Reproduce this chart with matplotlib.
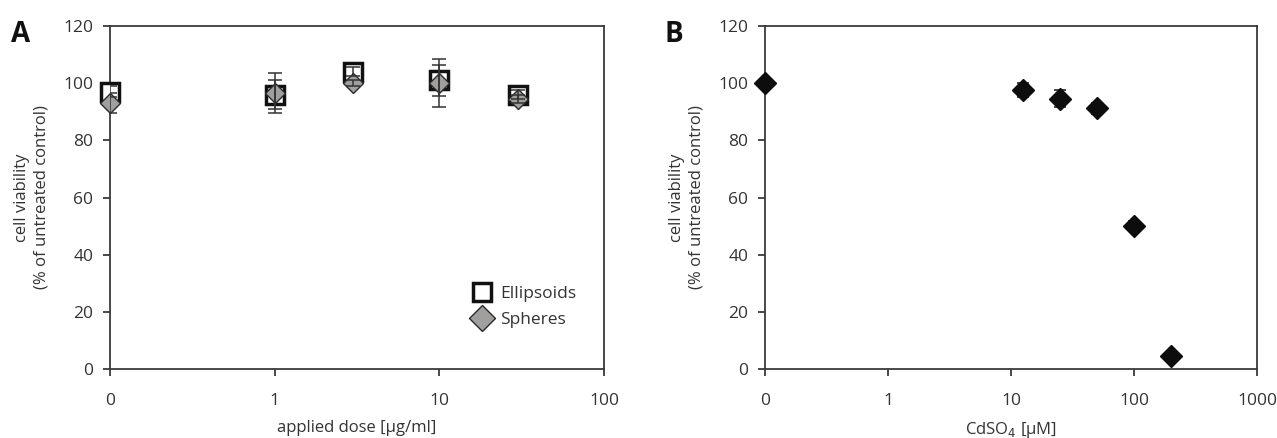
import matplotlib
matplotlib.use("Agg")
import matplotlib.pyplot as plt
from matplotlib.lines import Line2D
import numpy as np

plt.rcParams['font.family'] = ['Open Sans', 'DejaVu Sans']

# ---- Panel A data ----
dose_A = [0, 1, 3, 10, 30]            # µg/ml (0 drawn at the "0" position of the log axis)
ellipsoids = [97, 96, 104, 101, 96]
ellipsoids_err = [2, 5, 1.5, 5.5, 1.5]
spheres = [93, 96.5, 100, 100, 94.5]
spheres_err = [3.5, 7, 1, 8.5, 1.5]
xticks_A = ['0', '1', '10', '100']

# ---- Panel B data ----
dose_B = [0, 12.5, 25, 50, 100, 200]   # µM CdSO4
cdso4 = [100, 97.5, 94.5, 91.2, 50.2, 4.5]
cdso4_err = [0, 2.5, 3, 2, 1.5, 1]
xticks_B = ['0', '1', '10', '100', '1000']

ZERO_POS = 0.1  # position of the "0" label on the log axis

def pos(v):
    return [ZERO_POS if d == 0 else d for d in v]

TXT = '#333333'
SP = '#3a3a3a'

fig = plt.figure(figsize=(12.77, 4.38), dpi=100)
axA = fig.add_axes([110/1277, 69/438, 494/1277, 343/438])
axB = fig.add_axes([765/1277, 69/438, 492/1277, 343/438])

def style(ax, ticklabels, xlabel):
    ax.set_xscale('log')
    n = len(ticklabels)
    ticks = [ZERO_POS * 10**i for i in range(n)]
    ax.set_xlim(ticks[0], ticks[-1])
    ax.set_xticks(ticks)
    ax.set_xticklabels(ticklabels)
    ax.xaxis.set_minor_locator(matplotlib.ticker.NullLocator())
    ax.set_ylim(0, 120)
    ax.set_yticks(range(0, 121, 20))
    for s in ax.spines.values():
        s.set_color(SP)
        s.set_linewidth(1.3)
    ax.tick_params(axis='both', direction='out', length=5, width=1.3, color=SP,
                   labelcolor=TXT, labelsize=12.5)
    ax.tick_params(axis='x', pad=12)
    ax.tick_params(axis='y', pad=7)
    ax.set_ylabel('cell viability\n(% of untreated control)', fontsize=12,
                  color=TXT, labelpad=10, linespacing=1.25)
    ax.set_xlabel(xlabel, fontsize=12, color=TXT, labelpad=8)

style(axA, xticks_A, 'applied dose [µg/ml]')
style(axB, xticks_B, 'CdSO$_4$ [µM]')

# Panel A
xa = pos(dose_A)
axA.plot(xa, ellipsoids, linestyle='none', marker='s', ms=12.5, mfc='white',
         mec='#111111', mew=2.5, zorder=3, clip_on=False)
axA.plot(xa, spheres, linestyle='none', marker='D', ms=10.5, mfc='#a09f9d',
         mec='#2a2a2a', mew=1.0, zorder=4, clip_on=False)
axA.errorbar(xa, ellipsoids, yerr=ellipsoids_err, fmt='none', ecolor='#333333',
             elinewidth=1.1, capsize=5, capthick=1.1, zorder=5)
axA.errorbar(xa, spheres, yerr=spheres_err, fmt='none', ecolor='#333333',
             elinewidth=1.1, capsize=5, capthick=1.1, zorder=5)

handles = [Line2D([], [], linestyle='none', marker='s', ms=12.5, mfc='white',
                  mec='#111111', mew=2.5),
           Line2D([], [], linestyle='none', marker='D', ms=13, mfc='#a09f9d',
                  mec='#2a2a2a', mew=1.0)]
leg = axA.legend(handles, ['Ellipsoids', 'Spheres'], loc='lower right',
                 bbox_to_anchor=(0.975, 0.075), frameon=False, fontsize=12.5,
                 handlelength=1.0, handletextpad=0.55, labelspacing=0.55)
for t in leg.get_texts():
    t.set_color(TXT)

# Panel B
xb = pos(dose_B)
axB.errorbar(xb, cdso4, yerr=cdso4_err, fmt='none', ecolor='#111111',
             elinewidth=1.1, capsize=4, capthick=1.1, zorder=3)
axB.plot(xb, cdso4, linestyle='none', marker='D', ms=11, mfc='#0d0d0d',
         mec='#0d0d0d', zorder=4, clip_on=False)

fig.text(11/1277, 1 - 34/438, 'A', fontsize=20, fontweight='bold', color='#111111',
         va='center', ha='left')
fig.text(665/1277, 1 - 34/438, 'B', fontsize=20, fontweight='bold', color='#111111',
         va='center', ha='left')

fig.savefig('out.png', dpi=100)
